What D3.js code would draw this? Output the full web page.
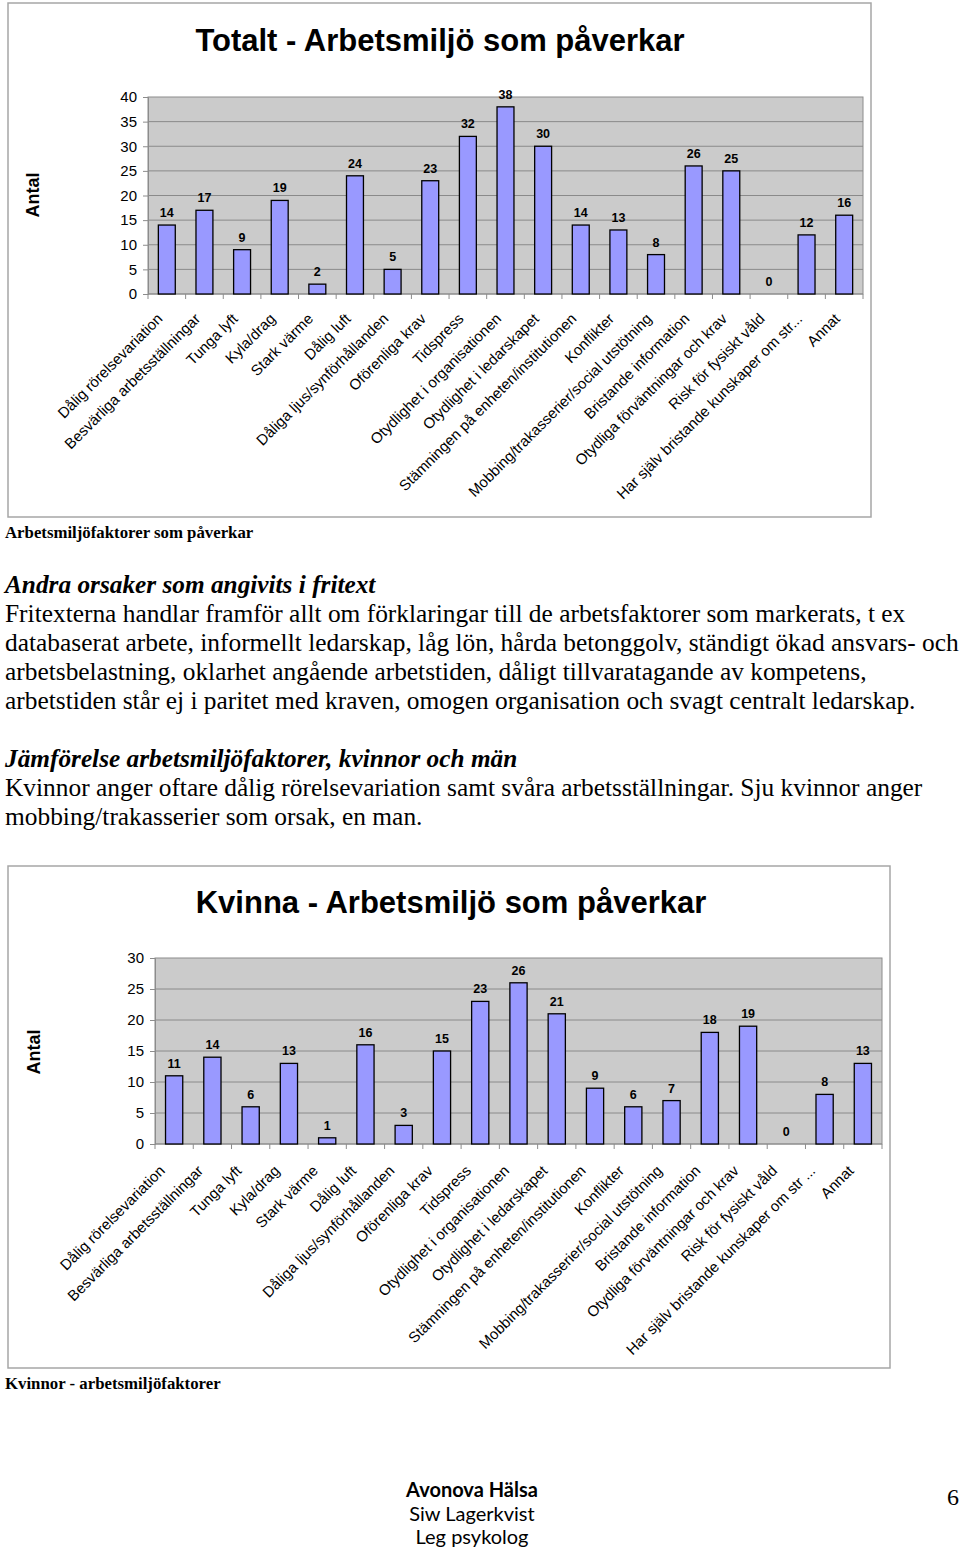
<!DOCTYPE html>
<html>
<head>
<meta charset="utf-8">
<script src="https://cdn.jsdelivr.net/npm/d3@7"></script>
<style>
  html, body { margin: 0; padding: 0; background: #fff; }
  svg { display: block; }
</style>
</head>
<body>
<svg id="page" width="960" height="1555"></svg>
<script>
// ---------- DATA ----------
const categoriesTotal = [
  "Dålig rörelsevariation", "Besvärliga arbetsställningar", "Tunga lyft", "Kyla/drag",
  "Stark värme", "Dålig luft", "Dåliga ljus/synförhållanden", "Oförenliga krav", "Tidspress",
  "Otydlighet i organisationen", "Otydlighet i ledarskapet", "Stämningen på enheten/institutionen",
  "Konflikter", "Mobbing/trakasserier/social utstötning", "Bristande information",
  "Otydliga förväntningar och krav", "Risk för fysiskt våld",
  "Har själv bristande kunskaper om str...", "Annat"
];
const categoriesKvinna = [
  "Dålig rörelsevariation", "Besvärliga arbetsställningar", "Tunga lyft", "Kyla/drag",
  "Stark värme", "Dålig luft", "Dåliga ljus/synförhållanden", "Oförenliga krav", "Tidspress",
  "Otydlighet i organisationen", "Otydlighet i ledarskapet", "Stämningen på enheten/institutionen",
  "Konflikter", "Mobbing/trakasserier/social utstötning", "Bristande information",
  "Otydliga förväntningar och krav", "Risk för fysiskt våld",
  "Har själv bristande kunskaper om str ...", "Annat"
];
const valuesTotal = [14, 17, 9, 19, 2, 24, 5, 23, 32, 38, 30, 14, 13, 8, 26, 25, 0, 12, 16];
const valuesKvinna = [11, 14, 6, 13, 1, 16, 3, 15, 23, 26, 21, 9, 6, 7, 18, 19, 0, 8, 13];
const ticksTotal = [0, 5, 10, 15, 20, 25, 30, 35, 40];
const ticksKvinna = [0, 5, 10, 15, 20, 25, 30];

const titleTotal = "Totalt - Arbetsmiljö som påverkar";
const titleKvinna = "Kvinna - Arbetsmiljö som påverkar";
const yAxisLabel = "Antal";
const captionTotal = "Arbetsmiljöfaktorer som påverkar";
const captionKvinna = "Kvinnor - arbetsmiljöfaktorer";

const heading1 = "Andra orsaker som angivits i fritext";
const body1 = [
  "Fritexterna handlar framför allt om förklaringar till de arbetsfaktorer som markerats, t ex",
  "databaserat arbete, informellt ledarskap, låg lön, hårda betonggolv, ständigt ökad ansvars- och",
  "arbetsbelastning, oklarhet angående arbetstiden, dåligt tillvaratagande av kompetens,",
  "arbetstiden står ej i paritet med kraven, omogen organisation och svagt centralt ledarskap."
];
const heading2 = "Jämförelse arbetsmiljöfaktorer, kvinnor och män";
const body2 = [
  "Kvinnor anger oftare dålig rörelsevariation samt svåra arbetsställningar. Sju kvinnor anger",
  "mobbing/trakasserier som orsak, en man."
];
const footerLines = ["Avonova Hälsa", "Siw Lagerkvist", "Leg psykolog"];
const pageNumber = "6";

// ---------- DRAWING ----------
const svg = d3.select("#page");
svg.append("rect").attr("width", 960).attr("height", 1555).attr("fill", "#fff");

const SANS = "'Liberation Sans', Arial, sans-serif";
const SERIF = "'Liberation Serif', 'Times New Roman', serif";

function drawChart(cfg) {
  const g = svg.append("g");
  // outer frame
  g.append("rect")
    .attr("x", cfg.frame[0]).attr("y", cfg.frame[1])
    .attr("width", cfg.frame[2] - cfg.frame[0]).attr("height", cfg.frame[3] - cfg.frame[1])
    .attr("fill", "#fff").attr("stroke", "#a6a6a6").attr("stroke-width", 1.5);

  // title
  g.append("text")
    .attr("x", cfg.titleX).attr("y", cfg.titleY)
    .attr("text-anchor", "middle")
    .attr("font-family", SANS).attr("font-weight", "bold").attr("font-size", 31)
    .attr("fill", "#000")
    .text(cfg.title);

  const x = d3.scaleBand().domain(cfg.categories).range([cfg.left, cfg.right]).paddingInner(0.55).paddingOuter(0.275);
  const xb = d3.scaleBand().domain(cfg.categories).range([cfg.left, cfg.right]);
  const y = d3.scaleLinear().domain([0, cfg.max]).range([cfg.bottom, cfg.top]);

  // plot area
  g.append("rect")
    .attr("x", cfg.left).attr("y", cfg.top)
    .attr("width", cfg.right - cfg.left).attr("height", cfg.bottom - cfg.top)
    .attr("fill", "#cbcbcb").attr("stroke", "#8c8c8c").attr("stroke-width", 1);

  // gridlines
  g.append("g").selectAll("line").data(cfg.ticks.filter(t => t > 0 && t < cfg.max)).join("line")
    .attr("x1", cfg.left).attr("x2", cfg.right)
    .attr("y1", d => y(d)).attr("y2", d => y(d))
    .attr("stroke", "#8a8a8a").attr("stroke-width", 1);

  // y axis
  const yAxis = d3.axisLeft(y).tickValues(cfg.ticks).tickSize(5).tickPadding(6);
  const ya = g.append("g").attr("transform", `translate(${cfg.left},0)`).call(yAxis);
  ya.select(".domain").attr("stroke", "#8c8c8c");
  ya.selectAll(".tick line").attr("stroke", "#8c8c8c");
  ya.selectAll(".tick text").attr("font-family", SANS).attr("font-size", 15).attr("fill", "#000");

  // x axis line + ticks at boundaries
  g.append("line").attr("x1", cfg.left).attr("x2", cfg.right)
    .attr("y1", cfg.bottom).attr("y2", cfg.bottom).attr("stroke", "#8c8c8c");
  const bounds = cfg.categories.map(c => xb(c)).concat([cfg.right]);
  g.append("g").selectAll("line").data(bounds).join("line")
    .attr("x1", d => d).attr("x2", d => d)
    .attr("y1", cfg.bottom).attr("y2", cfg.bottom + 5)
    .attr("stroke", "#8c8c8c");

  // bars
  g.append("g").selectAll("rect").data(cfg.values).join("rect")
    .attr("x", (d, i) => x(cfg.categories[i]))
    .attr("width", x.bandwidth())
    .attr("y", d => y(d))
    .attr("height", d => cfg.bottom - y(d))
    .attr("fill", "#9999ff").attr("stroke", "#000").attr("stroke-width", 1.3);

  // value labels
  g.append("g").selectAll("text").data(cfg.values).join("text")
    .attr("x", (d, i) => xb(cfg.categories[i]) + xb.bandwidth() / 2)
    .attr("y", d => y(d) - 8)
    .attr("text-anchor", "middle")
    .attr("font-family", SANS).attr("font-weight", "bold").attr("font-size", 12.5)
    .attr("fill", "#000")
    .text(d => d);

  // category labels
  g.append("g").selectAll("text").data(cfg.categories).join("text")
    .attr("transform", c => `translate(${xb(c) + xb.bandwidth() / 2 + cfg.labelDx},${cfg.bottom + cfg.labelDy}) rotate(-45)`)
    .attr("text-anchor", "end")
    .attr("dy", "0.35em")
    .attr("font-family", SANS).attr("font-size", 15).attr("fill", "#000")
    .text(c => c);

  // y label
  g.append("text")
    .attr("transform", `translate(${cfg.yLabelX},${cfg.yLabelY}) rotate(-90)`)
    .attr("text-anchor", "middle")
    .attr("dy", "0.35em")
    .attr("font-family", SANS).attr("font-weight", "bold").attr("font-size", 18)
    .attr("fill", "#000")
    .text(yAxisLabel);

  // caption
  svg.append("text")
    .attr("x", 5).attr("y", cfg.captionY)
    .attr("font-family", SERIF).attr("font-weight", "bold").attr("font-size", 16.8)
    .attr("fill", "#000")
    .text(cfg.caption);
}

drawChart({
  frame: [8, 3, 871, 517],
  title: titleTotal, titleX: 440, titleY: 51,
  left: 148, right: 863, top: 97, bottom: 294,
  max: 40, ticks: ticksTotal,
  categories: categoriesTotal, values: valuesTotal,
  labelDx: -7, labelDy: 22,
  yLabelX: 33, yLabelY: 195,
  caption: captionTotal, captionY: 538
});

drawChart({
  frame: [8, 866, 890, 1368],
  title: titleKvinna, titleX: 451, titleY: 913,
  left: 155, right: 882, top: 958, bottom: 1144,
  max: 30, ticks: ticksKvinna,
  categories: categoriesKvinna, values: valuesKvinna,
  labelDx: -12, labelDy: 24,
  yLabelX: 34, yLabelY: 1052,
  caption: captionKvinna, captionY: 1389
});

// paragraphs
function para(heading, lines, y0) {
  svg.append("text").attr("x", 5).attr("y", y0)
    .attr("font-family", SERIF).attr("font-weight", "bold").attr("font-style", "italic")
    .attr("font-size", 25.3).attr("fill", "#000").text(heading);
  svg.append("g").selectAll("text").data(lines).join("text")
    .attr("x", 5).attr("y", (d, i) => y0 + 29 * (i + 1))
    .attr("font-family", SERIF).attr("font-size", 25.4).attr("fill", "#000")
    .text(d => d);
}
para(heading1, body1, 593);
para(heading2, body2, 767);

// footer
svg.append("g").selectAll("text").data(footerLines).join("text")
  .attr("x", 472).attr("y", (d, i) => 1497 + 23.5 * i)
  .attr("text-anchor", "middle")
  .attr("font-family", "Lato, 'Open Sans', sans-serif")
  .attr("font-weight", (d, i) => i === 0 ? "bold" : "normal")
  .attr("font-size", 20).attr("fill", "#000")
  .text(d => d);
svg.append("text").attr("x", 953).attr("y", 1505).attr("text-anchor", "middle")
  .attr("font-family", SERIF).attr("font-size", 24).attr("fill", "#000").text(pageNumber);
</script>
</body>
</html>
